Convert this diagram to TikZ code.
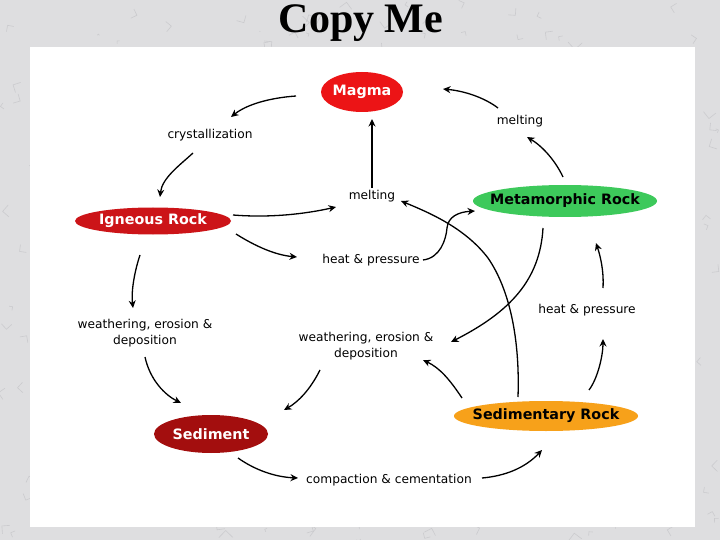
\documentclass[tikz,border=0pt]{standalone}
\usepackage{fontspec}
\setmainfont{DejaVu Sans}
\newfontfamily\titlefont{Liberation Serif}
\usetikzlibrary{shapes.geometric,arrows.meta}
\definecolor{marble}{RGB}{222,222,224}
\definecolor{vein}{RGB}{160,160,165}
\definecolor{magmared}{RGB}{236,20,22}
\definecolor{ignred}{RGB}{204,20,24}
\definecolor{sedred}{RGB}{163,14,14}
\definecolor{metagreen}{RGB}{61,201,91}
\definecolor{sedorange}{RGB}{247,161,26}
\begin{document}
\begin{tikzpicture}[x=1pt,y=-1pt,
  rock/.style={ellipse,inner sep=0pt,font=\fontsize{14.3}{16}\selectfont\bfseries},
  lbl/.style={font=\fontsize{12.2}{16}\selectfont,align=center,inner sep=0pt},
  arr/.style={line width=1.3pt,-{Stealth[length=7.5pt,width=7pt]}}]
\useasboundingbox (0,0) rectangle (720,540);
\fill[marble] (0,0) rectangle (720,540);
\pgfmathsetseed{7}
\foreach \k in {1,...,400}{
  \pgfmathsetmacro{\xa}{720*rnd}
  \pgfmathsetmacro{\ya}{540*rnd}
  \pgfmathsetmacro{\dx}{16*rnd-8}
  \pgfmathsetmacro{\dy}{16*rnd-8}
  \draw[vein,opacity=0.3,line width=0.6pt] (\xa,\ya) -- +(\dx,\dy) -- +(\dx+\dy,\dy-\dx);
}
\fill[white] (30,47) rectangle (695,527);
\node[font=\titlefont\bfseries\fontsize{42}{42}\selectfont,inner sep=0pt,anchor=base] (title) at (361,33) {Copy Me};
% rocks
\node[rock,fill=magmared,text=white,minimum width=82pt,minimum height=40pt] (magma) at (362,92) {\makebox[0pt]{Magma}};
\node[rock,fill=ignred,text=white,minimum width=156pt,minimum height=27pt] (igneous) at (153,221) {\makebox[0pt]{Igneous Rock}};
\node[rock,fill=metagreen,text=black,minimum width=184pt,minimum height=32pt] (meta) at (565,201) {\makebox[0pt]{Metamorphic Rock}};
\node[rock,fill=sedorange,text=black,minimum width=184pt,minimum height=30pt] (sedrock) at (546,416) {\makebox[0pt]{Sedimentary Rock}};
\node[rock,fill=sedred,text=white,minimum width=114pt,minimum height=38pt] (sediment) at (211,434) {\makebox[0pt]{Sediment}};
% labels
\node[lbl] (lcryst) at (210,135) {crystallization};
\node[lbl] (lmeltA) at (520,121) {melting};
\node[lbl] (lmeltB) at (372,196) {melting};
\node[lbl] (lheatA) at (371,260) {heat \& pressure};
\node[lbl] (lheatB) at (587,310) {heat \& pressure};
\node[lbl] (lweathA) at (145,333) {weathering, erosion \&\\deposition};
\node[lbl] (lweathB) at (366,346) {weathering, erosion \&\\deposition};
\node[lbl] (lcomp) at (389,480) {compaction \& cementation};
% endpoints
\coordinate (m1) at (296,96);   \coordinate (c1) at (231,117);
\coordinate (c2) at (193,153);  \coordinate (i1) at (160,197);
\coordinate (i2) at (233,215);  \coordinate (mb1) at (336,207);
\coordinate (i3) at (236,234);  \coordinate (h1) at (297,257);
\coordinate (h2) at (423,260);  \coordinate (me1) at (475,211);
\coordinate (mb2) at (372,188); \coordinate (m2) at (372,119);
\coordinate (me2) at (563,177); \coordinate (ma1) at (527,137);
\coordinate (ma2) at (498,108); \coordinate (m3) at (443,89);
\coordinate (s1) at (518,397);  \coordinate (mb3) at (401,201);
\coordinate (me3) at (543,228); \coordinate (wb1) at (451,342);
\coordinate (s2) at (462,398);  \coordinate (wb2) at (423,360);
\coordinate (wb3) at (320,370); \coordinate (sd1) at (284,410);
\coordinate (i4) at (140,255);  \coordinate (wa1) at (133,308);
\coordinate (wa2) at (145,357); \coordinate (sd2) at (181,403);
\coordinate (sd3) at (238,458); \coordinate (cp1) at (298,478);
\coordinate (cp2) at (482,478); \coordinate (s3) at (542,450);
\coordinate (s4) at (589,390);  \coordinate (hb1) at (603,339);
\coordinate (hb2) at (603,288); \coordinate (me4) at (596,243);
% arrows
\draw[arr] (m1) .. controls (268,98) and (246,105) .. (c1);
\draw[arr] (c2) .. controls (180,165) and (162,178) .. (i1);
\draw[arr] (i2) .. controls (270,218) and (305,214) .. (mb1);
\draw[arr] (i3) .. controls (255,246) and (275,255) .. (h1);
\draw[arr] (h2) .. controls (440,258) and (446,240) .. (447,228) .. controls (448,217) and (458,212) .. (me1);
\draw[arr] (mb2) -- (m2);
\draw[arr] (me2) .. controls (555,160) and (542,146) .. (ma1);
\draw[arr] (ma2) .. controls (485,98) and (465,91) .. (m3);
\draw[arr] (s1) .. controls (520,340) and (510,290) .. (488,258) .. controls (465,228) and (430,213) .. (mb3);
\draw[arr] (me3) .. controls (540,280) and (510,312) .. (wb1);
\draw[arr] (s2) .. controls (450,380) and (440,368) .. (wb2);
\draw[arr] (wb3) .. controls (310,390) and (298,402) .. (sd1);
\draw[arr] (i4) .. controls (135,270) and (131,290) .. (wa1);
\draw[arr] (wa2) .. controls (150,380) and (165,395) .. (sd2);
\draw[arr] (sd3) .. controls (255,470) and (275,477) .. (cp1);
\draw[arr] (cp2) .. controls (505,476) and (525,468) .. (s3);
\draw[arr] (s4) .. controls (598,378) and (603,355) .. (hb1);
\draw[arr] (hb2) .. controls (604,270) and (600,255) .. (me4);
\end{tikzpicture}
\end{document}
